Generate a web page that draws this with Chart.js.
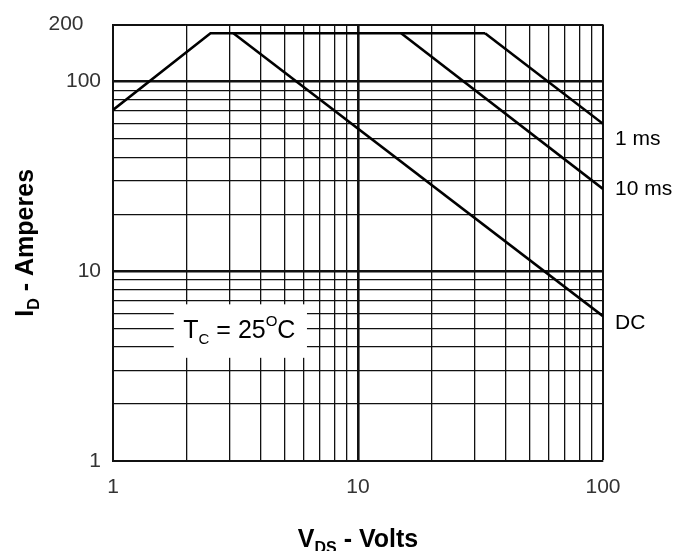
<!DOCTYPE html>
<html>
<head>
<meta charset="utf-8">
<script src="https://cdn.jsdelivr.net/npm/chart.js@4.4.1/dist/chart.umd.min.js"></script>
<style>
  html, body { margin: 0; padding: 0; background: #fff; }
  #wrap { width: 676px; height: 551px; }
</style>
</head>
<body>
<div id="wrap"><canvas id="soa" width="676" height="551"></canvas></div>
<script>
// axis grid + labels
const xTicks = [1, 2, 3, 4, 5, 6, 7, 8, 9, 10, 20, 30, 40, 50, 60, 70, 80, 90, 100];
const yTicks = [1, 2, 3, 4, 5, 6, 7, 8, 9, 10, 20, 30, 40, 50, 60, 70, 80, 90, 100, 200];
const xLabels = [1, 10, 100];
const yLabels = [1, 10, 100, 200];
const majorX = [10];
const majorY = [10, 100];

// safe operating area curves (V_DS in volts, I_D in amps)
const limitV = [1, 2.5, 33];
const limitI = [71, 180, 180];
const ms1V = [33, 100];
const ms1I = [180, 60];
const ms10V = [15, 100];
const ms10I = [180, 27.2];
const dcV = [3.1, 100];
const dcI = [180, 5.8];

const curveNames = ["1 ms", "10 ms", "DC"];
const curveLabelI = [50, 27, 5.35];

// T_C note box, in data units
const noteBoxV = [1.77, 6.19];
const noteBoxI = [6.7, 3.5];

const FONT = '"Liberation Sans", Arial, Helvetica, sans-serif';
const INK = "#111";

function toPoints(vs, is) {
  return vs.map((v, i) => ({ x: v, y: is[i] }));
}

function runsWidth(ctx, runs) {
  let w = 0;
  runs.forEach((r) => {
    ctx.font = `${r[2] ? "bold " : ""}${r[1]}px ${FONT}`;
    w += ctx.measureText(r[0]).width;
  });
  return w;
}

function drawRuns(ctx, runs, x, y) {
  runs.forEach((r) => {
    ctx.font = `${r[2] ? "bold " : ""}${r[1]}px ${FONT}`;
    ctx.fillText(r[0], x, y + r[3]);
    x += ctx.measureText(r[0]).width;
  });
}

const annotations = {
  id: "annotations",
  beforeDatasetsDraw(chart) {
    const { ctx, scales } = chart;
    const x0 = scales.x.getPixelForValue(noteBoxV[0]);
    const x1 = scales.x.getPixelForValue(noteBoxV[1]);
    const y0 = scales.y.getPixelForValue(noteBoxI[0]);
    const y1 = scales.y.getPixelForValue(noteBoxI[1]);
    ctx.save();
    ctx.fillStyle = "#fff";
    ctx.fillRect(x0, y0, x1 - x0, y1 - y0);
    ctx.fillStyle = "#000";
    ctx.textBaseline = "alphabetic";
    const runs = [
      ["T", 25, false, 0],
      ["C", 15, false, 6],
      [" = 25", 25, false, 0],
      ["O", 15, false, -12],
      ["C", 25, false, 0],
    ];
    const w = runsWidth(ctx, runs);
    drawRuns(ctx, runs, (x0 + x1) / 2 - w / 2 - 1, y1 - 20);
    ctx.restore();
  },
  afterDraw(chart) {
    const { ctx, scales, chartArea } = chart;
    ctx.save();
    ctx.fillStyle = "#000";

    // curve names on the right
    ctx.font = `21px ${FONT}`;
    ctx.textBaseline = "middle";
    ctx.textAlign = "left";
    curveNames.forEach((name, i) => {
      ctx.fillText(name, chartArea.right + 12, scales.y.getPixelForValue(curveLabelI[i]));
    });

    // axis titles with subscripts
    ctx.textBaseline = "alphabetic";
    const xRuns = [
      ["V", 25, true, 0],
      ["DS", 16, true, 6],
      [" - Volts", 25, true, 0],
    ];
    const xw = runsWidth(ctx, xRuns);
    drawRuns(ctx, xRuns, (chartArea.left + chartArea.right) / 2 - xw / 2, 547);

    const yRuns = [
      ["I", 25, true, 0],
      ["D", 16, true, 6],
      [" - Amperes", 25, true, 0],
    ];
    const yw = runsWidth(ctx, yRuns);
    ctx.translate(33, (chartArea.top + chartArea.bottom) / 2);
    ctx.rotate(-Math.PI / 2);
    drawRuns(ctx, yRuns, -yw / 2, 0);
    ctx.restore();
  },
};

const tickFont = { family: FONT, size: 21 };

new Chart(document.getElementById("soa").getContext("2d"), {
  type: "line",
  data: {
    datasets: [
      { label: "limit", data: toPoints(limitV, limitI) },
      { label: "1 ms", data: toPoints(ms1V, ms1I) },
      { label: "10 ms", data: toPoints(ms10V, ms10I) },
      { label: "DC", data: toPoints(dcV, dcI) },
    ],
  },
  options: {
    responsive: false,
    animation: false,
    devicePixelRatio: 1,
    layout: { padding: { top: 21, right: 73, left: 0, bottom: 0 } },
    plugins: { legend: { display: false }, tooltip: { enabled: false } },
    elements: {
      point: { radius: 0 },
      line: { borderColor: "#000", borderWidth: 2.6, tension: 0, fill: false },
    },
    scales: {
      x: {
        type: "logarithmic",
        min: 1,
        max: 100,
        afterBuildTicks: (s) => {
          s.ticks = xTicks.map((v) => ({ value: v }));
        },
        afterFit: (s) => {
          s.height = 90;
        },
        ticks: {
          autoSkip: false,
          maxRotation: 0,
          padding: 14,
          color: "#333",
          font: tickFont,
          callback: (v) => (xLabels.includes(v) ? String(v) : ""),
        },
        grid: {
          color: INK,
          drawTicks: false,
          lineWidth: (c) => {
            const v = c.tick ? c.tick.value : 0;
            if (majorX.includes(v)) return 2.6;
            if (v === 100) return 2;
            return 1.3;
          },
        },
        border: { color: INK, width: 2 },
      },
      y: {
        type: "logarithmic",
        min: 1,
        max: 200,
        afterBuildTicks: (s) => {
          s.ticks = yTicks.map((v) => ({ value: v }));
        },
        afterFit: (s) => {
          s.width = 113;
        },
        ticks: {
          autoSkip: false,
          padding: 12,
          color: "#333",
          font: tickFont,
          // the top label sits further left in the original
          callback: (v) => (v === 200 ? "200   " : yLabels.includes(v) ? String(v) : ""),
        },
        grid: {
          color: INK,
          drawTicks: false,
          lineWidth: (c) => {
            const v = c.tick ? c.tick.value : 0;
            if (majorY.includes(v)) return 2.6;
            if (v === 200) return 2;
            return 1.3;
          },
        },
        border: { color: INK, width: 2 },
      },
    },
  },
  plugins: [annotations],
});
</script>
</body>
</html>
